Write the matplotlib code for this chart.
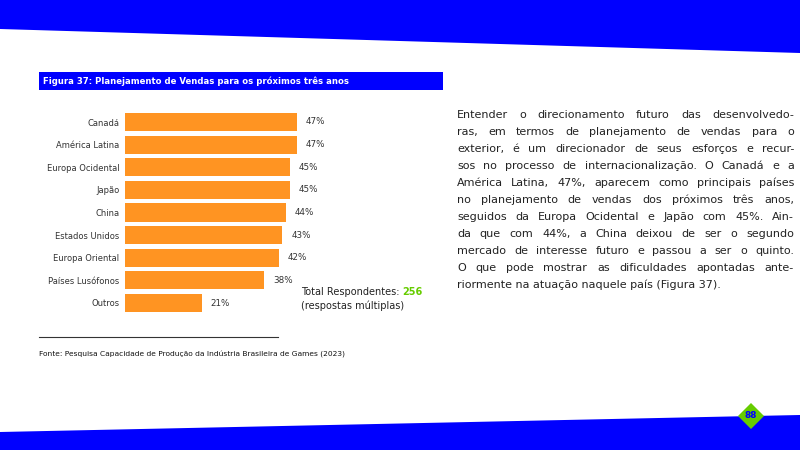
import matplotlib
matplotlib.use('Agg')
from matplotlib import pyplot as plt
from matplotlib.patches import Polygon, Rectangle
from matplotlib.lines import Line2D

categories = ['Canadá', 'América Latina', 'Europa Ocidental', 'Japão', 'China',
              'Estados Unidos', 'Europa Oriental', 'Países Lusófonos', 'Outros']
values = [47, 47, 45, 45, 44, 43, 42, 38, 21]
total_respondents = 256

title = 'Figura 37: Planejamento de Vendas para os próximos três anos'
source = 'Fonte: Pesquisa Capacidade de Produção da Indústria Brasileira de Games (2023)'
paragraph = [
    'Entender o direcionamento futuro das desenvolvedo-',
    'ras, em termos de planejamento de vendas para o',
    'exterior, é um direcionador de seus esforços e recur-',
    'sos no processo de internacionalização. O Canadá e a',
    'América Latina, 47%, aparecem como principais países',
    'no planejamento de vendas dos próximos três anos,',
    'seguidos da Europa Ocidental e Japão com 45%. Ain-',
    'da que com 44%, a China deixou de ser o segundo',
    'mercado de interesse futuro e passou a ser o quinto.',
    'O que pode mostrar as dificuldades apontadas ante-',
    'riormente na atuação naquele país (Figura 37).',
]
page_number = '88'

BLUE = '#0000ff'
ORANGE = '#ff9422'
GREEN = '#66cc00'
W, H = 800, 450
plt.rcParams['font.family'] = ['DejaVu Sans']

fig = plt.figure(figsize=(8, 4.5), dpi=100)


def fx(x):
    return x / W


def fy(y):
    return 1 - y / H


def px(pts):
    return [(fx(x), fy(y)) for x, y in pts]


# page decoration
fig.add_artist(Polygon(px([(0, 0), (800, 0), (800, 53), (0, 29)]), closed=True,
                       transform=fig.transFigure, color=BLUE, lw=0))
fig.add_artist(Polygon(px([(0, 432), (800, 415), (800, 450), (0, 450)]), closed=True,
                       transform=fig.transFigure, color=BLUE, lw=0))
fig.add_artist(Polygon(px([(751, 403), (764, 416), (751, 429), (738, 416)]), closed=True,
                       transform=fig.transFigure, color=GREEN, lw=0))
fig.text(fx(751), fy(416), page_number, color=BLUE, fontsize=6.5, fontweight='bold',
         ha='center', va='center')

# title bar
fig.add_artist(Rectangle((fx(39), fy(90)), fx(443 - 39), 18 / H,
                         transform=fig.transFigure, color=BLUE, lw=0))
fig.text(fx(43), fy(81), title, color='white', fontsize=6.1, fontweight='bold',
         ha='left', va='center')

# bar chart
step = 22.625
top = 122 - step / 2
ax = fig.add_axes([fx(125), fy(top + 9 * step), fx(320), 9 * step / H])
ypos = list(range(len(categories)))
ax.barh(ypos, values, height=0.8, color=ORANGE)
ax.set_xlim(0, 320 / 3.66)
ax.set_ylim(len(categories) - 0.5, -0.5)
ax.set_yticks(ypos)
ax.set_yticklabels(categories, fontsize=6, color='#333333')
ax.tick_params(axis='y', length=0, pad=4)
ax.set_xticks([])
for s in ax.spines.values():
    s.set_visible(False)
ax.patch.set_alpha(0)
for y, v in zip(ypos, values):
    ax.text(v + 2.4, y, f'{v}%', fontsize=6.3, color='#333333', va='center', ha='left')

t0 = fig.text(fx(301), fy(292), 'Total Respondentes: ', fontsize=7, ha='left', va='center',
              color='#222222')
fig.canvas.draw()
r = fig.canvas.get_renderer()
bb = t0.get_window_extent(r)
fig.text(bb.x1 / W, fy(292), str(total_respondents), fontsize=7, ha='left', va='center',
         color=GREEN, fontweight='bold')
fig.text(fx(301), fy(306), '(respostas múltiplas)', fontsize=7, ha='left', va='center',
         color='#222222')

# source
fig.add_artist(Line2D([fx(39), fx(278)], [fy(337), fy(337)], transform=fig.transFigure,
                      color='#333333', lw=0.8))
fig.text(fx(39), fy(355), source, fontsize=5.4, ha='left', va='center', color='#111111')

# justified paragraph
x0, x1 = 457, 794
y0, dy = 115, 17
for i, line in enumerate(paragraph):
    y = fy(y0 + i * dy)
    words = line.split(' ')
    if i == len(paragraph) - 1:
        fig.text(fx(x0), y, line, fontsize=8, ha='left', va='center', color='#222222')
        continue
    objs = [fig.text(0, y, w, fontsize=8, ha='left', va='center', color='#222222')
            for w in words]
    widths = [o.get_window_extent(r).width for o in objs]
    gap = (x1 - x0 - sum(widths)) / max(len(words) - 1, 1)
    x = x0
    for o, w in zip(objs, widths):
        o.set_x(fx(x))
        x += w + gap

fig.savefig('out.png', dpi=100)
